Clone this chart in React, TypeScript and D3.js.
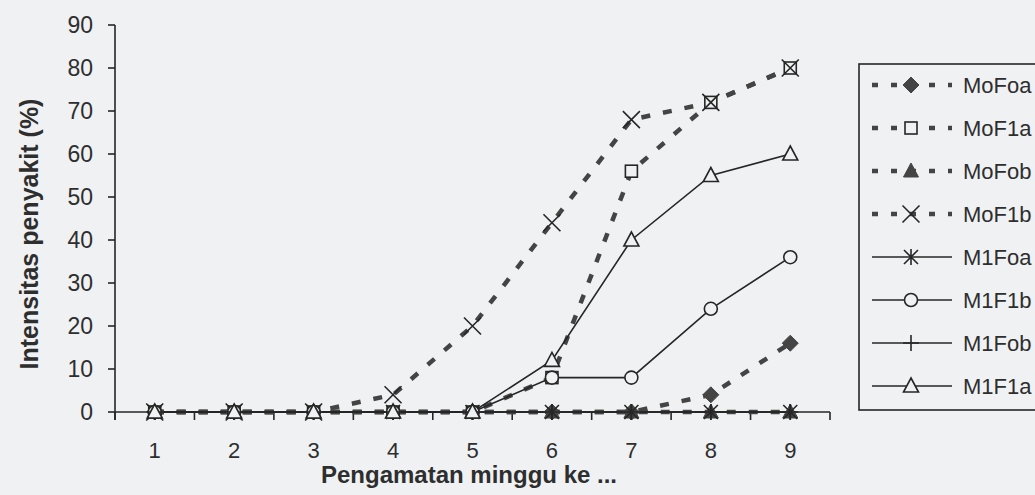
import React from "react";
import * as d3 from "d3";

const weeks = ["1", "2", "3", "4", "5", "6", "7", "8", "9"];
const yTicks = [0, 10, 20, 30, 40, 50, 60, 70, 80, 90];

const MoFoa = [0, 0, 0, 0, 0, 0, 0, 4, 16];
const MoF1a = [0, 0, 0, 0, 0, 8, 56, 72, 80];
const MoFob = [0, 0, 0, 0, 0, 0, 0, 0, 0];
const MoF1b = [0, 0, 0, 4, 20, 44, 68, 72, 80];
const M1Foa = [0, 0, 0, 0, 0, 0, 0, 0, 0];
const M1F1b = [0, 0, 0, 0, 0, 8, 8, 24, 36];
const M1Fob = [0, 0, 0, 0, 0, 0, 0, 0, 0];
const M1F1a = [0, 0, 0, 0, 0, 12, 40, 55, 60];

type Marker = "diamond" | "square" | "triangleFill" | "x" | "asterisk" | "circle" | "plus" | "triangle";

const seriesNames = ["MoFoa", "MoF1a", "MoFob", "MoF1b", "M1Foa", "M1F1b", "M1Fob", "M1F1a"];
const seriesValues = [MoFoa, MoF1a, MoFob, MoF1b, M1Foa, M1F1b, M1Fob, M1F1a];
const seriesDashed = [true, true, true, true, false, false, false, false];
const seriesMarkers: Marker[] = ["diamond", "square", "triangleFill", "x", "asterisk", "circle", "plus", "triangle"];

const W = 1035;
const H = 495;
const M = { left: 115, right: 830, top: 25, bottom: 412 };
const BG = "#eff1f3";
const INK = "#262626";
const DASH_INK = "#444444";
const TEXT = "#2e2e2e";
const FONT = "Liberation Sans, Arial, sans-serif";

function MarkerShape({ type, x, y }: { type: Marker; x: number; y: number }) {
  const s = 7;
  switch (type) {
    case "diamond":
      return <path d={`M${x},${y - 8}L${x + 8},${y}L${x},${y + 8}L${x - 8},${y}Z`} fill={DASH_INK} stroke={DASH_INK} strokeWidth={1} />;
    case "square":
      return <rect x={x - 6} y={y - 6} width={12} height={12} fill={BG} stroke={INK} strokeWidth={1.6} />;
    case "triangleFill":
      return <path d={`M${x},${y - 8}L${x + 7.5},${y + 6}L${x - 7.5},${y + 6}Z`} fill={DASH_INK} stroke={DASH_INK} strokeWidth={1} />;
    case "triangle":
      return <path d={`M${x},${y - 8}L${x + 7.5},${y + 6}L${x - 7.5},${y + 6}Z`} fill={BG} stroke={INK} strokeWidth={1.6} />;
    case "x":
      return <path d={`M${x - 8.5},${y - 8.5}L${x + 8.5},${y + 8.5}M${x + 8.5},${y - 8.5}L${x - 8.5},${y + 8.5}`} stroke={INK} strokeWidth={1.6} fill="none" />;
    case "asterisk":
      return <path d={`M${x - s},${y - s}L${x + s},${y + s}M${x + s},${y - s}L${x - s},${y + s}M${x},${y - 8}L${x},${y + 8}`} stroke={INK} strokeWidth={1.6} fill="none" />;
    case "circle":
      return <circle cx={x} cy={y} r={6.5} fill={BG} stroke={INK} strokeWidth={1.6} />;
    case "plus":
      return <path d={`M${x},${y - 8}L${x},${y + 8}M${x - 8},${y}L${x + 8},${y}`} stroke={INK} strokeWidth={1.6} fill="none" />;
  }
  return null;
}

export default function App() {
  const x = d3.scaleBand<string>().domain(weeks).range([M.left, M.right]).paddingInner(0).paddingOuter(0);
  const y = d3.scaleLinear().domain([0, 90]).range([M.bottom, M.top]);
  const cx = (i: number) => (x(weeks[i]) as number) + x.bandwidth() / 2;
  const line = d3
    .line<number>()
    .x((_, i) => cx(i))
    .y((v) => y(v));

  const boundaries = d3.range(weeks.length + 1).map((i) => M.left + i * x.bandwidth());

  const legendX = 859;
  const legendTop = 64;
  const legendBottom = 410;
  const rowY = (i: number) => 85 + i * 43;

  return (
    <svg width={W} height={H} style={{ position: "absolute", left: 0, top: 0, background: BG }} fontFamily={FONT}>
      <rect x={0} y={0} width={W} height={H} fill={BG} />

      {/* Y axis */}
      <line x1={M.left} x2={M.left} y1={M.top} y2={M.bottom + 8} stroke={INK} strokeWidth={1.6} />
      {yTicks.map((t) => (
        <g key={t}>
          <line x1={M.left - 7} x2={M.left} y1={y(t)} y2={y(t)} stroke={INK} strokeWidth={1.6} />
          <text x={M.left - 22} y={y(t)} dy="0.36em" textAnchor="end" fontSize={23} fill={TEXT}>
            {t}
          </text>
        </g>
      ))}

      {/* X axis */}
      <line x1={M.left} x2={M.right} y1={M.bottom} y2={M.bottom} stroke={INK} strokeWidth={1.6} />
      {boundaries.map((b, i) => (
        <line key={i} x1={b} x2={b} y1={M.bottom} y2={M.bottom + 8} stroke={INK} strokeWidth={1.6} />
      ))}
      {weeks.map((w, i) => (
        <text key={w} x={cx(i)} y={458} textAnchor="middle" fontSize={22} fill={TEXT}>
          {w}
        </text>
      ))}

      <text
        transform={`translate(38,${234}) rotate(-90)`}
        textAnchor="middle"
        fontSize={25}
        fontWeight="bold"
        fill={TEXT}
      >
        Intensitas penyakit (%)
      </text>
      <text x={469} y={483} textAnchor="middle" fontSize={24} fontWeight="bold" fill={TEXT}>
        Pengamatan minggu ke ...
      </text>

      {/* Lines */}
      {seriesValues.map((vals, si) => (
        <path
          key={seriesNames[si]}
          d={line(vals) as string}
          fill="none"
          stroke={seriesDashed[si] ? DASH_INK : INK}
          strokeWidth={seriesDashed[si] ? 4.5 : 1.6}
          strokeDasharray={seriesDashed[si] ? "9,13" : undefined}
        />
      ))}
      {/* Markers */}
      {seriesValues.map((vals, si) => (
        <g key={seriesNames[si] + "-m"}>
          {vals.map((v, i) => (
            <MarkerShape key={i} type={seriesMarkers[si]} x={cx(i)} y={y(v)} />
          ))}
        </g>
      ))}

      {/* Legend */}
      <rect x={legendX} y={legendTop} width={W + 20 - legendX} height={legendBottom - legendTop} fill={BG} stroke={INK} strokeWidth={1.6} />
      {seriesNames.map((n, i) => {
        const ry = rowY(i);
        return (
          <g key={n}>
            <line
              x1={872}
              x2={952}
              y1={ry}
              y2={ry}
              stroke={seriesDashed[i] ? DASH_INK : INK}
              strokeWidth={seriesDashed[i] ? 4.5 : 1.6}
              strokeDasharray={seriesDashed[i] ? "6,13" : undefined}
            />
            <MarkerShape type={seriesMarkers[i]} x={911} y={ry} />
            <text x={963} y={ry} dy="0.36em" fontSize={22} fill={TEXT}>
              {n}
            </text>
          </g>
        );
      })}
    </svg>
  );
}
